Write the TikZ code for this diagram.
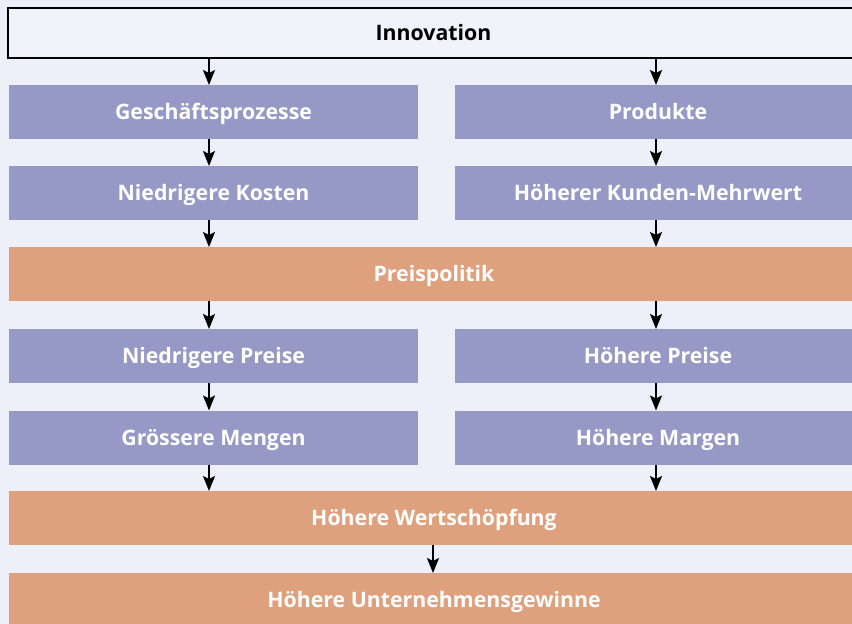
\documentclass[tikz,border=0pt]{standalone}
\usepackage{fontspec}
\setmainfont{Open Sans}
\usetikzlibrary{arrows.meta}
\definecolor{bgc}{HTML}{EDF0F8}
\definecolor{topfill}{HTML}{F0F3FA}
\definecolor{lila}{HTML}{9698C6}
\definecolor{orng}{HTML}{DFA07D}
\begin{document}
\begin{tikzpicture}[x=1pt,y=-1pt,
  base/.style={rectangle,inner sep=0pt,outer sep=0pt,font=\fontsize{21.3}{24}\selectfont\bfseries,text=white,text height=15.2pt,text depth=0pt},
  topbox/.style={base,draw=black,line width=2pt,fill=topfill,text=black,minimum width=851pt,minimum height=50pt},
  halfL/.style={base,fill=lila,minimum width=409pt,minimum height=54pt},
  halfR/.style={base,fill=lila,minimum width=406pt,minimum height=54pt},
  wide/.style={base,fill=orng,minimum width=850pt,minimum height=54pt},
  arr/.style={line width=2pt,-{Stealth[length=15pt,width=12pt,inset=3pt]}}]
\fill[bgc] (0,0) rectangle (852,624);
\useasboundingbox (0,0) rectangle (852,624);
\clip (0,0) rectangle (852,624);
\node[topbox] (innov) at (433.5,33) {Innovation};
\node[halfL] (gp) at (213.5,112) {Geschäftsprozesse};
\node[halfR] (prod) at (658,112) {Produkte};
\node[halfL] (nk) at (213.5,193) {Niedrigere Kosten};
\node[halfR] (hkm) at (658,193) {Höherer Kunden-Mehrwert};
\node[wide] (pp) at (434,274) {Preispolitik};
\node[halfL] (np) at (213.5,356) {Niedrigere Preise};
\node[halfR] (hp) at (658,356) {Höhere Preise};
\node[halfL] (gm) at (213.5,437.5) {Grössere Mengen};
\node[halfR] (hm) at (658,437.5) {Höhere Margen};
\node[wide] (hw) at (434,518) {Höhere Wertschöpfung};
\node[wide] (hu) at (434,600) {Höhere Unternehmensgewinne};
\coordinate (L) at (209,0);
\coordinate (R) at (656,0);
\coordinate (M) at (433,0);
\draw[arr] (innov.south -| L) -- (gp.north -| L);
\draw[arr] (innov.south -| R) -- (prod.north -| R);
\draw[arr] (gp.south -| L) -- (nk.north -| L);
\draw[arr] (prod.south -| R) -- (hkm.north -| R);
\draw[arr] (nk.south -| L) -- (pp.north -| L);
\draw[arr] (hkm.south -| R) -- (pp.north -| R);
\draw[arr] (pp.south -| L) -- (np.north -| L);
\draw[arr] (pp.south -| R) -- (hp.north -| R);
\draw[arr] (np.south -| L) -- (gm.north -| L);
\draw[arr] (hp.south -| R) -- (hm.north -| R);
\draw[arr] (gm.south -| L) -- (hw.north -| L);
\draw[arr] (hm.south -| R) -- (hw.north -| R);
\draw[arr] (hw.south -| M) -- (hu.north -| M);
\end{tikzpicture}
\end{document}
